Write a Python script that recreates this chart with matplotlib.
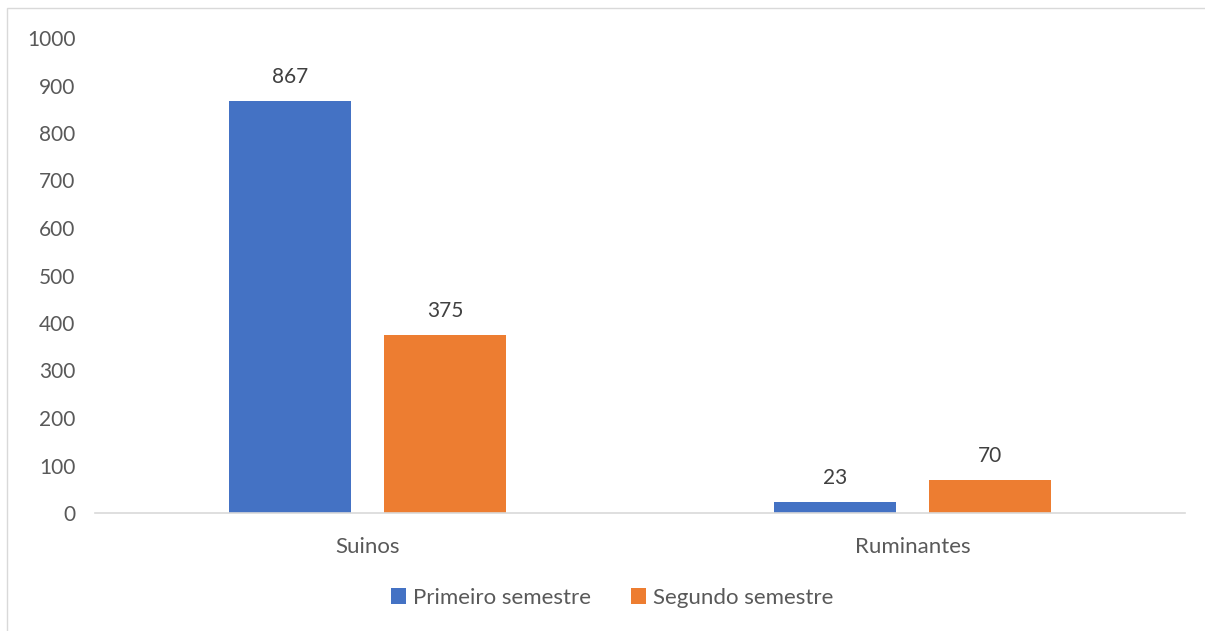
import numpy as np
import matplotlib.pyplot as plt
from matplotlib.patches import Rectangle

categories = ["Suinos", "Ruminantes"]
series_names = ["Primeiro semestre", "Segundo semestre"]
primeiro = [867, 23]
segundo = [375, 70]
yticks = [0, 100, 200, 300, 400, 500, 600, 700, 800, 900, 1000]

BLUE = "#4472C4"
ORANGE = "#ED7D31"
TEXT = "#595959"
FONT = "Lato"


def main() -> None:
    plt.rcParams["font.family"] = [FONT, "DejaVu Sans"]
    fig = plt.figure(figsize=(12.05, 6.31), dpi=100)
    W, H = 1205, 631

    # chart border (only left/top visible in the crop)
    fig.patches.append(Rectangle((7 / W, -0.1), 1.2, (H - 8) / H + 0.1,
                                 transform=fig.transFigure, fill=False,
                                 edgecolor="#D9D9D9", linewidth=1.0))

    ax = fig.add_axes([95 / W, (H - 513) / H, (1185 - 95) / W, (513 - 38) / H])
    x = np.arange(len(categories))
    width = 0.224
    offset = 0.142

    bars1 = ax.bar(x - offset, primeiro, width, color=BLUE, label=series_names[0])
    bars2 = ax.bar(x + offset, segundo, width, color=ORANGE, label=series_names[1])

    for bars in (bars1, bars2):
        for b in bars:
            ax.annotate(f"{int(b.get_height())}",
                        (b.get_x() + b.get_width() / 2, b.get_height()),
                        xytext=(0, 10), textcoords="offset points",
                        ha="center", va="bottom", fontsize=15, color="#404040")

    ax.set_xlim(-0.5, 1.5)
    ax.set_ylim(0, 1000)
    ax.set_yticks(yticks)
    ax.set_xticks(x)
    ax.set_xticklabels(categories)
    ax.tick_params(axis="y", length=0, labelsize=15, labelcolor=TEXT, pad=14)
    ax.tick_params(axis="x", length=0, labelsize=16, labelcolor=TEXT, pad=17)
    for s in ("top", "right", "left"):
        ax.spines[s].set_visible(False)
    ax.spines["bottom"].set_color("#D9D9D9")
    ax.spines["bottom"].set_linewidth(1.2)

    leg = fig.legend(loc="center", bbox_to_anchor=(612 / W, (H - 598) / H),
                     ncol=2, frameon=False, fontsize=16, handlelength=0.7,
                     handleheight=0.7, handletextpad=0.3, columnspacing=1.8)
    for t in leg.get_texts():
        t.set_color(TEXT)

    fig.savefig("out.png", dpi=100)


if __name__ == "__main__":
    main()
